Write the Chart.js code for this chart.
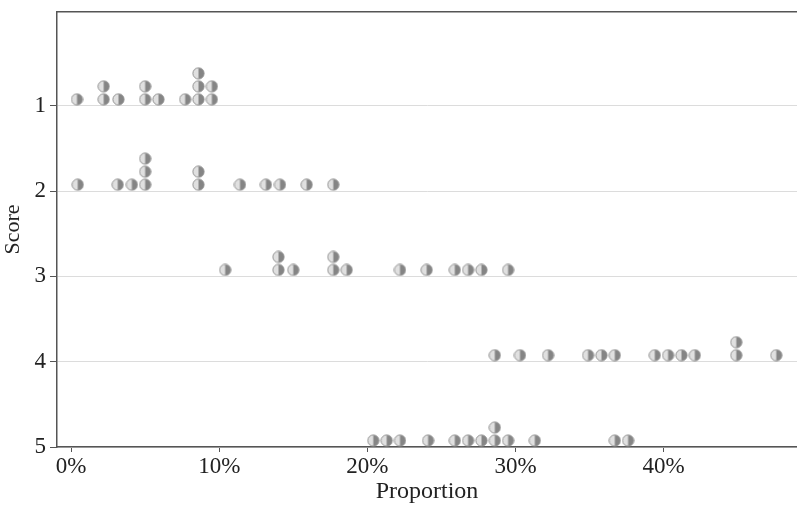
<!DOCTYPE html>
<html>
<head>
<meta charset="utf-8">
<script src="https://cdn.jsdelivr.net/npm/chart.js@4/dist/chart.umd.min.js"></script>
<style>
  html, body { margin: 0; padding: 0; background: #fff; overflow: hidden; }
  #wrap { width: 797px; height: 506px; position: relative; }
  #dotChart { display: block; }
</style>
</head>
<body>
<div id="wrap"><canvas id="dotChart"></canvas></div>
<script>
// Proportions (%), one entry per dot; repeats stack up
const scores = [1, 2, 3, 4, 5];
const score1 = [0.4, 2.2, 2.2, 3.2, 5.0, 5.0, 5.9, 7.7, 8.6, 8.6, 8.6, 9.5, 9.5];
const score2 = [0.45, 3.15, 4.1, 5.0, 5.0, 5.0, 8.6, 8.6, 11.4, 13.15, 14.1, 15.9, 17.7];
const score3 = [10.4, 14.0, 14.0, 15.0, 17.7, 17.7, 18.6, 22.2, 24.0, 25.9, 26.8, 27.7, 29.5];
const score4 = [28.6, 30.3, 32.2, 34.9, 35.8, 36.7, 39.4, 40.3, 41.2, 42.1, 44.9, 44.9, 47.6];
const score5 = [20.4, 21.3, 22.2, 24.1, 25.9, 26.8, 27.7, 28.6, 28.6, 29.5, 31.3, 36.7, 37.6];
const xTicks = [0, 10, 20, 30, 40];

// half shaded marker
const dot = document.createElement('canvas');
dot.width = 13; dot.height = 13;
const d = dot.getContext('2d');
d.beginPath(); d.arc(6.5, 6.5, 5.6, 0, Math.PI * 2); d.fillStyle = '#e0e0e0'; d.fill();
d.beginPath(); d.arc(6.5, 6.5, 5.6, -Math.PI / 2, Math.PI / 2); d.fillStyle = '#858585'; d.fill();
d.beginPath(); d.arc(6.5, 6.5, 5.6, 0, Math.PI * 2); d.strokeStyle = '#939393'; d.lineWidth = 1; d.stroke();

// stack repeated values upward from the score line
function stackPoints(values, score) {
    const seen = {};
    return values.map(v => {
        const k = seen[v] || 0;
        seen[v] = k + 1;
        return { x: v, y: score - 0.076 - 0.1525 * k };
    });
}

// drop the label-overhang padding chart.js adds around the plot
function noPad(s) {
    s.paddingTop = 0; s.paddingBottom = 0; s.paddingLeft = 0; s.paddingRight = 0;
}

const rows = [score1, score2, score3, score4, score5];
const family = '"Liberation Serif", "Times New Roman", Tinos, serif';
const font = { family: family, size: 23 };

const chart = new Chart(document.getElementById('dotChart'), {
    type: 'scatter',
    data: {
        datasets: rows.map((vals, i) => ({
            label: 'Score ' + scores[i],
            data: stackPoints(vals, scores[i]),
            pointStyle: dot,
            pointRadius: 6.5,
            pointHoverRadius: 6.5
        }))
    },
    options: {
        responsive: true,
        maintainAspectRatio: false,
        animation: false,
        layout: { autoPadding: false, padding: { top: 12, right: 0, left: 0, bottom: 0 } },
        plugins: { legend: { display: false }, tooltip: { enabled: false } },
        scales: {
            x: {
                type: 'linear',
                min: -0.95,
                max: 49,
                afterBuildTicks: s => { s.ticks = xTicks.map(v => ({ value: v })); },
                afterFit: s => { s.height = 59; noPad(s); },
                ticks: { callback: v => v + '%', color: '#222', font: font, padding: 1, maxRotation: 0 },
                grid: { drawOnChartArea: false, tickLength: 5, tickColor: '#555' },
                border: { color: '#555', width: 1.5 },
                title: { display: true, text: 'Proportion', color: '#222', font: { family: family, size: 24 }, padding: { top: 0, bottom: 0 } }
            },
            x2: {
                type: 'linear',
                position: 'top',
                min: -0.95,
                max: 49,
                afterBuildTicks: s => { s.ticks = xTicks.map(v => ({ value: v })); },
                afterFit: s => { s.height = 0; noPad(s); },
                ticks: { display: false },
                grid: { display: false },
                border: { color: '#555', width: 1.5 }
            },
            y: {
                type: 'linear',
                reverse: true,
                min: -0.1,
                max: 5,
                afterBuildTicks: s => { s.ticks = scores.map(v => ({ value: v })); },
                afterFit: s => { s.width = 57; noPad(s); },
                ticks: { color: '#222', font: font, padding: 4 },
                grid: { color: '#dcdcdc', lineWidth: 1, tickLength: 7, tickColor: '#555' },
                border: { color: '#555', width: 1.5 },
                title: { display: true, text: 'Score', color: '#222', font: { family: family, size: 22 }, padding: { top: 0, bottom: 0 } }
            }
        }
    }
});

// redraw once the serif face is ready
if (document.fonts && document.fonts.load) {
    document.fonts.load('23px "Liberation Serif"').then(() => chart.update());
}
</script>
</body>
</html>
